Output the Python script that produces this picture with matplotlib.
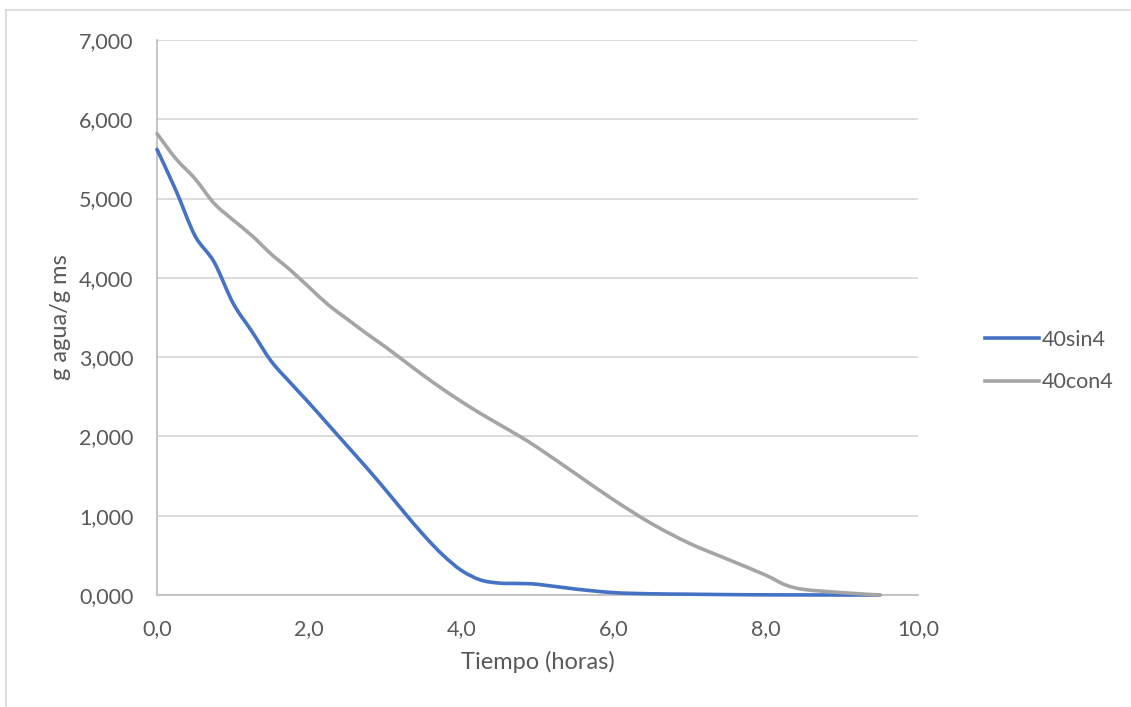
import numpy as np
import matplotlib.pyplot as plt
from matplotlib.lines import Line2D
from matplotlib.path import Path
from matplotlib.patches import PathPatch

plt.rcParams['font.family'] = ['Lato', 'DejaVu Sans']

# tiempo (horas)
t_sin = [0, 0.25, 0.5, 0.75, 1.0, 1.25, 1.5, 1.75, 2.0, 2.25, 2.5, 2.75, 3.0,
         3.25, 3.5, 3.75, 4.0, 4.25, 4.5, 4.75, 5.0, 5.5, 6.0, 6.5, 7.0, 7.5,
         8.0, 8.5, 9.0, 9.5]
y_sin = [5620, 5100, 4530, 4200, 3680, 3320, 2950, 2680, 2420, 2150, 1880,
         1610, 1330, 1040, 760, 510, 310, 190, 150, 145, 135, 75, 30, 15, 10,
         5, 2, 1, 0, 0]

t_con = [0, 0.25, 0.5, 0.75, 1.0, 1.25, 1.5, 1.75, 2.0, 2.25, 2.5, 2.75, 3.0,
         3.25, 3.5, 3.75, 4.0, 4.25, 4.5, 4.75, 5.0, 5.5, 6.0, 6.5, 7.0, 7.5,
         8.0, 8.25, 8.5, 9.0, 9.5]
y_con = [5820, 5500, 5250, 4940, 4730, 4530, 4300, 4100, 3880, 3660, 3480,
         3300, 3130, 2950, 2770, 2600, 2440, 2290, 2150, 2010, 1860, 1530,
         1200, 900, 650, 450, 250, 130, 70, 30, 0]

series = ['40sin4', '40con4']
colors = ['#4472C4', '#A5A5A5']

xticks = [0, 2, 4, 6, 8, 10]
yticks = [0, 1000, 2000, 3000, 4000, 5000, 6000, 7000]


def smooth_path(x, y, k=1 / 6):
    # excel-like smoothed line: bezier segments through the data points
    x = np.asarray(x, float)
    y = np.asarray(y, float)
    verts = [(x[0], y[0])]
    codes = [Path.MOVETO]
    n = len(x)
    for i in range(n - 1):
        i0 = max(i - 1, 0)
        i3 = min(i + 2, n - 1)
        c1 = (x[i] + (x[i + 1] - x[i0]) * k, y[i] + (y[i + 1] - y[i0]) * k)
        c2 = (x[i + 1] - (x[i3] - x[i]) * k, y[i + 1] - (y[i3] - y[i]) * k)
        verts += [c1, c2, (x[i + 1], y[i + 1])]
        codes += [Path.CURVE4] * 3
    return Path(verts, codes)


W, H = 1131, 707
fig = plt.figure(figsize=(W / 100, H / 100), dpi=100)
ax = fig.add_axes([157 / W, 1 - 595 / H, (918 - 157) / W, (595 - 40) / H])

for (tx, ty), c in zip([(t_sin, y_sin), (t_con, y_con)], colors):
    ax.add_patch(PathPatch(smooth_path(tx, ty), fill=False, edgecolor=c,
                           lw=2.6, capstyle='round', joinstyle='round',
                           clip_on=False, zorder=3))

ax.set_xlim(0, 10)
ax.set_ylim(0, 7000)
ax.set_xticks(xticks)
ax.set_yticks(yticks)
ax.set_xticklabels([('%.1f' % v).replace('.', ',') for v in xticks])
ax.set_yticklabels([('%.3f' % (v / 1000)).replace('.', ',') for v in yticks])

ax.grid(axis='y', color='#D9D9D9', lw=1.3)
ax.set_axisbelow(True)
for s in ['top', 'right']:
    ax.spines[s].set_visible(False)
for s in ['left', 'bottom']:
    ax.spines[s].set_color('#BFBFBF')
    ax.spines[s].set_linewidth(1.3)
ax.tick_params(length=0, labelsize=15.5, colors='#595959')
ax.tick_params(axis='y', pad=17)
ax.tick_params(axis='x', pad=17)

ax.set_xlabel('Tiempo (horas)', fontsize=17, color='#595959', labelpad=9)
ax.set_ylabel('g agua/g ms', fontsize=17, color='#595959', labelpad=6)

handles = [Line2D([], [], color=c, lw=2.6) for c in colors]
fig.legend(handles, series, loc='center left', bbox_to_anchor=(966 / W, 1 - 361 / H),
           frameon=False, fontsize=15.5, labelcolor='#595959', handlelength=2.5,
           handletextpad=0.1, labelspacing=1.05)

# chart area border
fig.add_artist(Line2D([6 / W, 1130 / W], [1 - 10 / H, 1 - 10 / H],
                      color='#D9D9D9', lw=1.2, transform=fig.transFigure))
fig.add_artist(Line2D([6 / W, 6 / W], [1 - 10 / H, 0],
                      color='#D9D9D9', lw=1.2, transform=fig.transFigure))

fig.savefig('out.png', dpi=100)
